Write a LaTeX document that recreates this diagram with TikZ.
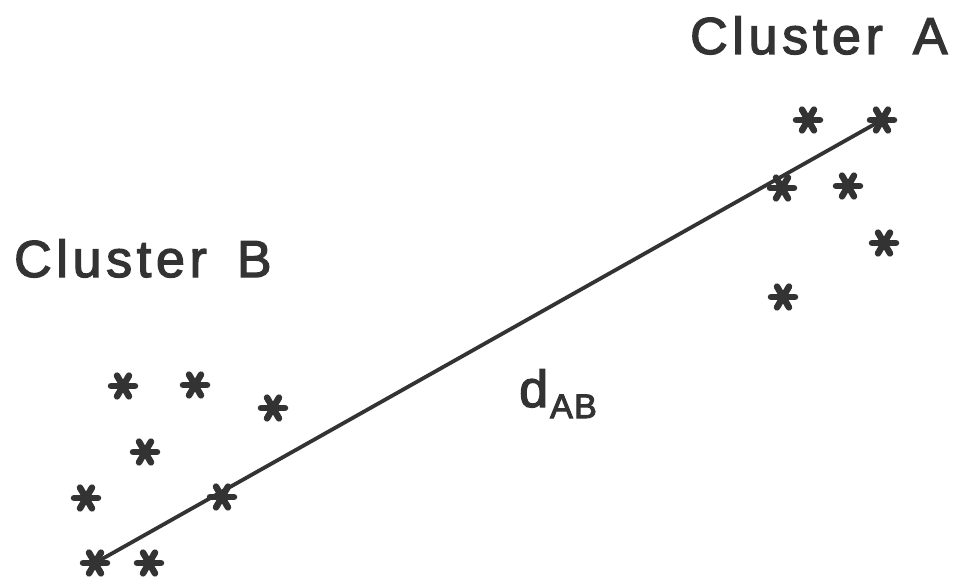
\documentclass[tikz,border=0pt]{standalone}
\usepackage{fontspec}
\setmainfont{Liberation Sans}
\newfontfamily\labfont[LetterSpace=9, FakeBold=2.5]{Liberation Sans}
\newfontfamily\dfont[FakeBold=2.5]{Liberation Sans}
\newfontfamily\subfont[FakeBold=3, LetterSpace=4]{Liberation Sans}
\definecolor{ink}{HTML}{333333}
\tikzset{
  starpt/.style={inner sep=0pt, minimum size=0pt},
  lab/.style={inner sep=0pt, text=ink, font=\labfont\fontsize{52}{60}\selectfont},
  conn/.style={draw=ink, line width=3.8pt, line cap=round},
}
\newcommand{\astmark}[2]{%
  \node[starpt] (#1) at #2 {};
  \fill[ink] (#1) circle (6pt);
  \foreach \a in {0,60,120} {
    \draw[ink, line width=6.5pt, line cap=round] (#1) ++(\a:12pt) -- ++(\a+180:24pt);
  }
}
\begin{document}
\begin{tikzpicture}[x=1pt,y=-1pt]
\useasboundingbox (0,0) rectangle (956,583);
% cluster B
\astmark{b1}{(123,386)}
\astmark{b2}{(195,385)}
\astmark{b3}{(273,408)}
\astmark{b4}{(145,452)}
\astmark{b5}{(86,498)}
\astmark{b6}{(222,497)}
\astmark{b7}{(95,563)}
\astmark{b8}{(149,563)}
% cluster A
\astmark{a1}{(808,120)}
\astmark{a2}{(882,120)}
\astmark{a3}{(782,188)}
\astmark{a4}{(848,186)}
\astmark{a5}{(884,243)}
\astmark{a6}{(783,297)}
\draw[conn] (b7.center) -- (a2.center);
\node[lab, anchor=base west] (la) at (690,54) {Cluster\hspace{30pt}A};
\node[lab, anchor=base west] (lb) at (14,277) {Cluster\hspace{30pt}B};
\node[inner sep=0pt, text=ink, anchor=base west, font=\dfont\fontsize{52}{60}\selectfont] (d) at (519,407) {d\hspace{2pt}{\subfont\fontsize{34}{40}\selectfont\raisebox{-11pt}{AB}}};
\end{tikzpicture}
\end{document}
